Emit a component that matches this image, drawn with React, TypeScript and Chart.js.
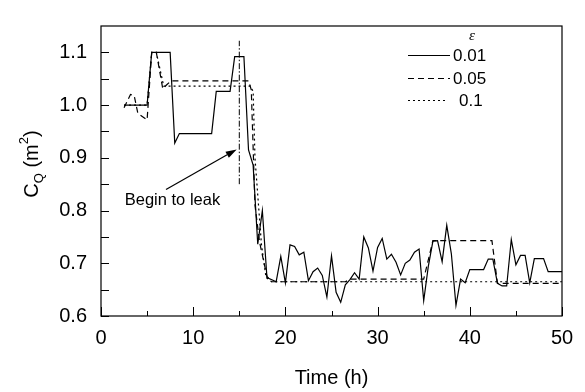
import { useEffect, useRef } from "react";
import { Chart, registerables } from "chart.js";

Chart.register(...registerables);

const FONT = '"Liberation Sans", Arial, sans-serif';

// epsilon = 0.01 (solid)
const solidTime = [2.5, 5.0, 5.5, 7.5, 8.0, 8.5, 12.0, 12.5, 14.0, 14.5, 15.5, 16.0, 16.5, 17.0, 17.5, 18.0, 19.0, 19.5, 20.0, 20.5, 21.0, 21.5, 22.0, 22.5, 23.0, 23.5, 24.0, 24.5, 25.0, 25.5, 26.0, 26.5, 27.0, 27.5, 28.0, 28.5, 29.0, 29.5, 30.0, 30.5, 31.0, 31.5, 32.0, 32.5, 33.0, 33.5, 34.0, 34.5, 35.0, 35.5, 36.0, 36.5, 37.0, 37.5, 38.0, 38.5, 39.0, 39.5, 40.0, 41.5, 42.0, 42.5, 43.0, 43.5, 44.0, 44.5, 45.0, 45.5, 46.0, 46.5, 47.0, 48.0, 48.5, 50.0];
const solidValues = [1.0, 1.0, 1.1, 1.1, 0.928, 0.946, 0.946, 1.026, 1.026, 1.092, 1.092, 0.915, 0.886, 0.736, 0.8, 0.673, 0.665, 0.713, 0.663, 0.735, 0.732, 0.716, 0.721, 0.667, 0.684, 0.691, 0.677, 0.636, 0.714, 0.645, 0.626, 0.659, 0.669, 0.682, 0.67, 0.75, 0.729, 0.685, 0.73, 0.747, 0.708, 0.717, 0.702, 0.678, 0.7, 0.706, 0.721, 0.727, 0.629, 0.694, 0.742, 0.743, 0.703, 0.772, 0.718, 0.62, 0.67, 0.663, 0.688, 0.688, 0.708, 0.708, 0.662, 0.657, 0.657, 0.745, 0.697, 0.715, 0.715, 0.663, 0.709, 0.709, 0.684, 0.684];

// epsilon = 0.05 (dashed)
const dashedTime = [2.5, 3.2, 3.6, 4.0, 5.0, 5.5, 6.0, 6.7, 7.1, 7.6, 16.0, 16.3, 16.7, 17.2, 18.0, 18.5, 26.5, 27.0, 35.0, 36.0, 42.4, 43.0, 50.0];
const dashedValues = [0.995, 1.02, 1.018, 0.984, 0.972, 1.1, 1.1, 1.031, 1.038, 1.046, 1.046, 1.029, 0.81, 0.74, 0.675, 0.665, 0.665, 0.67, 0.67, 0.743, 0.743, 0.662, 0.662];

// epsilon = 0.1 (dotted)
const dottedTime = [2.5, 5.0, 5.5, 6.0, 6.8, 16.2, 16.5, 16.7, 17.4, 17.9, 18.5, 50.0];
const dottedValues = [1.0, 1.0, 1.1, 1.1, 1.036, 1.036, 1.026, 0.9, 0.736, 0.673, 0.665, 0.665];

// leak marker
const leakTime = [15, 15];
const leakValues = [0.85, 1.122];
const arrowTail = { x: 7.05, y: 0.84 };
const arrowTip = { x: 14.72, y: 0.916 };
const leakLabel = { x: 7.75, y: 0.82, text: "Begin to leak" };

const xTicks = [0, 10, 20, 30, 40, 50];
const xMinorTicks = [0, 5, 10, 15, 20, 25, 30, 35, 40, 45, 50];
const yTicks = [0.6, 0.7, 0.8, 0.9, 1.0, 1.1];
const yMinorTicks = [0.6, 0.65, 0.7, 0.75, 0.8, 0.85, 0.9, 0.95, 1.0, 1.05, 1.1];

const legendTitle = "ε";
const legendLabels = ["0.01", "0.05", "0.1"];

const toPts = (t: number[], v: number[]) => t.map((x, i) => ({ x, y: v[i] }));

const decor = {
  id: "decor",
  afterDraw(chart: any) {
    const { ctx, chartArea: a, scales } = chart;
    const xs = scales.x;
    const ys = scales.y;
    ctx.save();
    ctx.strokeStyle = "#000";
    ctx.fillStyle = "#000";
    ctx.lineWidth = 1.2;
    ctx.setLineDash([]);
    // frame
    ctx.strokeRect(a.left, a.top, a.right - a.left, a.bottom - a.top);
    // ticks (inward)
    ctx.lineWidth = 1;
    ctx.beginPath();
    xMinorTicks.forEach((v) => {
      const px = Math.round(xs.getPixelForValue(v)) + 0.5;
      const len = xTicks.includes(v) ? 9 : 5;
      ctx.moveTo(px, a.bottom);
      ctx.lineTo(px, a.bottom - len);
    });
    yMinorTicks.forEach((v) => {
      const py = Math.round(ys.getPixelForValue(v)) + 0.5;
      ctx.moveTo(a.left, py);
      ctx.lineTo(a.left + 8, py);
    });
    ctx.stroke();

    // y title C_Q (m^2)
    ctx.save();
    ctx.translate(38, 164);
    ctx.rotate(-Math.PI / 2);
    ctx.textBaseline = "alphabetic";
    ctx.textAlign = "left";
    const big = `20px ${FONT}`;
    const small = `13px ${FONT}`;
    const parts = [
      { t: "C", f: big, dy: 0 },
      { t: "Q", f: small, dy: 5 },
      { t: " (m", f: big, dy: 0 },
      { t: "2", f: small, dy: -10 },
      { t: ")", f: big, dy: 0 },
    ];
    let w = 0;
    parts.forEach((p) => {
      ctx.font = p.f;
      w += ctx.measureText(p.t).width;
    });
    let cx = -w / 2;
    parts.forEach((p) => {
      ctx.font = p.f;
      ctx.fillText(p.t, cx, p.dy);
      cx += ctx.measureText(p.t).width;
    });
    ctx.restore();

    // legend
    ctx.font = `italic 15px "Liberation Serif", "DejaVu Serif", serif`;
    ctx.textAlign = "center";
    ctx.textBaseline = "middle";
    ctx.fillText(legendTitle, 472, 36);
    const rows = [
      { y: 55, dash: [], x2: 450, tx: 453 },
      { y: 78, dash: [6, 4], x2: 450, tx: 453 },
      { y: 100, dash: [2, 3], x2: 445, tx: 459 },
    ];
    ctx.font = `17px ${FONT}`;
    ctx.textAlign = "left";
    rows.forEach((r, i) => {
      ctx.lineWidth = 1.2;
      ctx.setLineDash(r.dash);
      ctx.beginPath();
      ctx.moveTo(408, r.y + 0.5);
      ctx.lineTo(r.x2, r.y + 0.5);
      ctx.stroke();
      ctx.setLineDash([]);
      ctx.fillText(legendLabels[i], r.tx, r.y + 1);
    });

    // arrow
    const x1 = xs.getPixelForValue(arrowTail.x);
    const y1 = ys.getPixelForValue(arrowTail.y);
    const x2 = xs.getPixelForValue(arrowTip.x);
    const y2 = ys.getPixelForValue(arrowTip.y);
    const ang = Math.atan2(y2 - y1, x2 - x1);
    const hl = 11;
    const hw = 3.5;
    ctx.lineWidth = 1.2;
    ctx.beginPath();
    ctx.moveTo(x1, y1);
    ctx.lineTo(x2 - hl * Math.cos(ang), y2 - hl * Math.sin(ang));
    ctx.stroke();
    ctx.beginPath();
    ctx.moveTo(x2, y2);
    ctx.lineTo(x2 - hl * Math.cos(ang) + hw * Math.sin(ang), y2 - hl * Math.sin(ang) - hw * Math.cos(ang));
    ctx.lineTo(x2 - hl * Math.cos(ang) - hw * Math.sin(ang), y2 - hl * Math.sin(ang) + hw * Math.cos(ang));
    ctx.closePath();
    ctx.fill();

    // label
    ctx.font = `16.5px ${FONT}`;
    ctx.textAlign = "center";
    ctx.textBaseline = "middle";
    ctx.fillText(leakLabel.text, xs.getPixelForValue(leakLabel.x), ys.getPixelForValue(leakLabel.y));
    ctx.restore();
  },
};

export default function App() {
  const ref = useRef<HTMLCanvasElement | null>(null);
  useEffect(() => {
    if (!ref.current) return;
    const line = { borderColor: "#000", borderWidth: 1.2, pointRadius: 0, tension: 0, fill: false };
    const chart = new Chart(ref.current, {
      type: "line",
      data: {
        datasets: [
          { ...line, label: "0.01", data: toPts(solidTime, solidValues) },
          { ...line, label: "0.05", data: toPts(dashedTime, dashedValues), borderDash: [6, 4] },
          { ...line, label: "0.1", data: toPts(dottedTime, dottedValues), borderDash: [2, 3] },
          { ...line, label: "leak", data: toPts(leakTime, leakValues), borderWidth: 1, borderDash: [6, 2, 1.5, 2] },
        ],
      },
      options: {
        animation: false,
        responsive: true,
        maintainAspectRatio: false,
        layout: { padding: { left: 0, right: 23, top: 9.5, bottom: 0 } },
        plugins: { legend: { display: false }, tooltip: { enabled: false } },
        scales: {
          x: {
            type: "linear",
            min: 0,
            max: 50,
            grid: { display: false, drawTicks: false },
            border: { display: false },
            afterBuildTicks: (s: any) => {
              s.ticks = xTicks.map((v) => ({ value: v }));
            },
            afterFit: (s: any) => {
              s.height = 76;
            },
            ticks: { padding: 10, color: "#000", font: { family: FONT, size: 20 }, maxRotation: 0, autoSkip: false },
            title: { display: true, text: "Time (h)", color: "#000", font: { family: FONT, size: 20 }, padding: { top: 0, bottom: 2 } },
          },
          y: {
            type: "linear",
            min: 0.6,
            max: 1.15,
            grid: { display: false, drawTicks: false },
            border: { display: false },
            afterBuildTicks: (s: any) => {
              s.ticks = yTicks.map((v) => ({ value: v }));
            },
            afterFit: (s: any) => {
              s.width = 101;
            },
            ticks: {
              padding: 14,
              color: "#000",
              font: { family: FONT, size: 20 },
              callback: (v: any) => Number(v).toFixed(1),
            },
          },
        },
      },
      plugins: [decor],
    } as any);
    return () => chart.destroy();
  }, []);
  return (
    <div style={{ position: "fixed", left: 0, top: 0, width: 585, height: 392, background: "#fff" }}>
      <canvas ref={ref} />
    </div>
  );
}
